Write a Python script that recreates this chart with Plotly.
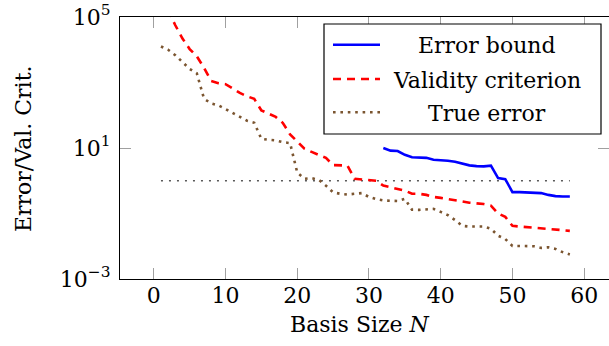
import plotly.graph_objects as go

# ---------------- data ----------------
N_all = list(range(1, 59))
N_bound = list(range(32, 59))

true_error = [
    1.26e4, 1.0e4, 6.8e3, 4.2e3, 2.6e3, 1.9e3, 3.2e2, 2.3e2, 2.0e2, 1.55e2,
    1.17e2, 85, 68, 59, 19, 17.8, 17, 15.1, 14.1, 1.78,
    1.15, 1.2, 1.07, 0.71, 0.44, 0.40, 0.38, 0.40, 0.42, 0.32,
    0.275, 0.25, 0.25, 0.24, 0.28, 0.13, 0.129, 0.135, 0.138, 0.112,
    0.089, 0.063, 0.042, 0.040, 0.040, 0.040, 0.034, 0.021, 0.0166, 0.0102,
    0.0102, 0.0102, 0.0100, 0.0089, 0.0093, 0.0083, 0.0066, 0.0056,
]

validity = [
    4.0e5, 1.6e5, 5.6e4, 2.2e4, 1.05e4, 6.3e3, 2.8e3, 1.12e3, 955, 890,
    660, 480, 380, 316, 141, 112, 89, 58, 26, 15.8,
    9.5, 7.6, 6.3, 5.0, 3.0, 2.9, 2.9, 1.15, 1.10, 1.05,
    1.0, 0.71, 0.63, 0.56, 0.50, 0.40, 0.40, 0.37, 0.32, 0.30,
    0.28, 0.26, 0.234, 0.214, 0.204, 0.195, 0.174, 0.10, 0.079, 0.042,
    0.040, 0.038, 0.037, 0.035, 0.034, 0.032, 0.031, 0.0295,
]

error_bound = [
    10.0, 8.3, 8.1, 6.2, 5.2, 5.1, 5.0, 4.4, 4.3, 4.1,
    3.8, 3.3, 2.95, 2.8, 2.75, 2.9, 1.2, 1.12, 0.45, 0.45,
    0.44, 0.43, 0.42, 0.37, 0.34, 0.33, 0.33,
]

threshold_N = [1, 58]
threshold = [1.0, 1.0]

y_tickvals = [1e-3, 1e1, 1e5]
y_ticktext = ["10<sup>−3</sup>", "10<sup>1</sup>", "10<sup>5</sup>"]
x_tickvals = [0, 10, 20, 30, 40, 50, 60]

legend_names = ["Error bound", "Validity criterion", "True error"]
x_title = "Basis Size <i>N</i>"
y_title = "Error/Val. Crit."

# ---------------- style ----------------
BLUE = "#0000ff"
RED = "#ff0000"
BROWN = "#7b5530"
GREY = "#5a5a5a"
FONT = "DejaVu Serif"
FS = 22

fig = go.Figure()
fig.add_trace(go.Scatter(x=threshold_N, y=threshold, mode="lines",
                         line=dict(color=GREY, width=1.3, dash="2px,6px"),
                         showlegend=False, hoverinfo="skip"))
fig.add_trace(go.Scatter(x=N_bound, y=error_bound, mode="lines", name=legend_names[0],
                         line=dict(color=BLUE, width=2.6), showlegend=False))
fig.add_trace(go.Scatter(x=N_all, y=validity, mode="lines", name=legend_names[1],
                         line=dict(color=RED, width=2.6, dash="8px,6px"), showlegend=False))
fig.add_trace(go.Scatter(x=N_all, y=true_error, mode="lines", name=legend_names[2],
                         line=dict(color=BROWN, width=2.6, dash="2.6px,4.8px"), showlegend=False))

# ---------------- custom centred legend (pgfplots style) ----------------
W, H = 609, 346
L, R, T, B = 120, 0, 17, 67
pw, ph = W - L - R, H - T - B

def px(x):
    return (x - L) / pw

def py(y):
    return (H - B - y) / ph

fig.add_shape(type="rect", xref="paper", yref="paper",
              x0=px(324), x1=px(601), y0=py(134), y1=py(24),
              line=dict(color="black", width=1.2), fillcolor="white", layer="above")
rows = [44.7, 79, 112.3]
styles = [dict(color=BLUE, width=2.6),
          dict(color=RED, width=2.6, dash="8px,6px"),
          dict(color=BROWN, width=2.6, dash="2.6px,4.8px")]
for name, ry, st in zip(legend_names, rows, styles):
    fig.add_shape(type="line", xref="paper", yref="paper",
                  x0=px(333), x1=px(380), y0=py(ry), y1=py(ry), line=st, layer="above")
    fig.add_annotation(text=name, xref="paper", yref="paper", x=px(487), y=py(ry + 1),
                       xanchor="center", yanchor="middle", showarrow=False,
                       font=dict(family=FONT, size=FS, color="black"))

# axis titles
fig.add_annotation(text=x_title, xref="paper", yref="paper", x=px(360), y=py(324),
                   xanchor="center", yanchor="middle", showarrow=False,
                   font=dict(family=FONT, size=FS, color="black"))
fig.add_annotation(text=y_title, xref="paper", yref="paper", x=px(23), y=py(149),
                   xanchor="center", yanchor="middle", showarrow=False, textangle=-90,
                   font=dict(family=FONT, size=FS, color="black"))

axis_common = dict(showline=True, linecolor="black", linewidth=1.2, mirror="allticks",
                   ticks="inside", ticklen=11, tickcolor="#a0a0a0", tickwidth=1,
                   showgrid=False, zeroline=False,
                   tickfont=dict(family=FONT, size=FS, color="black"))

fig.update_layout(
    width=W, height=H,
    margin=dict(l=L, r=R, t=T, b=B, autoexpand=False),
    paper_bgcolor="white", plot_bgcolor="white",
    font=dict(family=FONT, size=FS, color="black"),
    showlegend=False,
    xaxis=dict(range=[-4.71, 63.46], tickvals=x_tickvals, automargin=False,
               ticklabelstandoff=-4, **axis_common),
    yaxis=dict(type="log", range=[-3, 5], tickvals=y_tickvals, ticktext=y_ticktext,
               automargin=False, ticklabelstandoff=4, **axis_common),
)

fig.write_html("out.html")
